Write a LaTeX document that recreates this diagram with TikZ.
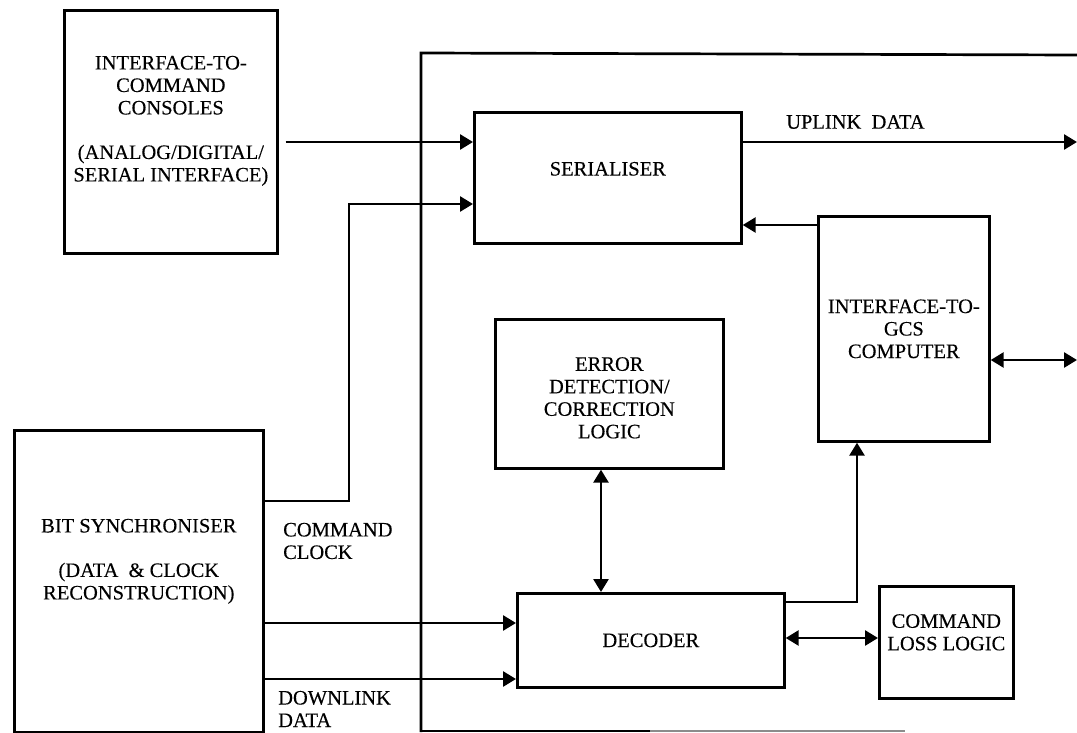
\documentclass[tikz,border=0pt]{standalone}
\usepackage{fontspec}
\setmainfont{Liberation Serif}[FakeBold=0.25]
\usetikzlibrary{arrows.meta,calc}
\begin{document}
\begin{tikzpicture}[x=1pt,y=-1pt,
  blk/.style={draw,line width=2.7pt,rectangle,inner sep=0pt,anchor=north west,
    font=\fontsize{20.5}{22.5}\selectfont,align=center},
  txt/.style={font=\fontsize{20.5}{22.5}\selectfont,align=center,inner sep=0pt},
  ltxt/.style={font=\fontsize{20.5}{22.5}\selectfont,align=left,inner sep=0pt,anchor=west},
  wire/.style={line width=2.7pt},
  arr/.style={wire,-{Triangle[length=13pt,width=15pt]}},
  darr/.style={wire,{Triangle[length=13pt,width=15pt]}-{Triangle[length=13pt,width=15pt]}}
]
\useasboundingbox (0,0) rectangle (1077,733);
% outer frame
\draw[wire] (421,732) -- (421,53) -- (1077,55);
\draw[wire] (421,731) -- (650,731);
\draw[line width=1.8pt,black!45] (650,731) -- (905,731);
% boxes
\node[blk,minimum width=213pt,minimum height=243pt,
  label={[txt,yshift=11pt]center:INTERFACE-TO-\\COMMAND\\CONSOLES\\[22pt](ANALOG/DIGITAL/\\SERIAL INTERFACE)}]
  (cons) at (63,9) {};
\node[blk,minimum width=267pt,minimum height=131pt,
  label={[txt,yshift=9pt]center:SERIALISER}] (ser) at (473,111) {};
\node[blk,minimum width=171pt,minimum height=225pt] (gcs) at (817,215)
  {INTERFACE-TO-\\GCS\\COMPUTER};
\node[blk,minimum width=228pt,minimum height=149pt,
  label={[txt,yshift=-4pt]center:ERROR\\DETECTION/\\CORRECTION\\LOGIC}] (err) at (494,318) {};
\node[blk,minimum width=267pt,minimum height=94pt] (dec) at (516,592) {DECODER};
\node[blk,minimum width=134pt,minimum height=112pt,
  label={[txt,yshift=10pt]center:COMMAND\\LOSS LOGIC}] (loss) at (878,585) {};
\node[blk,minimum width=249pt,minimum height=302pt,
  label={[txt,yshift=20pt]center:BIT SYNCHRONISER\\[22pt](DATA~~\&~CLOCK\\RECONSTRUCTION)}]
  (bit) at (13,429) {};
% free ends
\coordinate (upout) at (1077,142);
\coordinate (gcsout) at (1077,360);
% connectors
\draw[arr] ([xshift=7pt]cons.east |- 0,142) -- (ser.west |- 0,142);
\draw[arr] (bit.east |- 0,501) -- (349,501) -- (349,204) -- (ser.west |- 0,204);
\draw[arr] (ser.east |- upout) -- (upout);
\draw[arr] (gcs.west |- 0,225) -- (ser.east |- 0,225);
\draw[darr] (gcs.east |- gcsout) -- (gcsout);
\draw[darr] (err.south -| 601,0) -- (dec.north -| 601,0);
\draw[arr] (dec.east |- 0,602) -- (857,602) -- (gcs.south -| 857,0);
\draw[darr] (dec.east |- 0,638) -- (loss.west |- 0,638);
\draw[arr] (bit.east |- 0,623) -- (dec.west |- 0,623);
\draw[arr] (bit.east |- 0,679) -- (dec.west |- 0,679);
% labels
\node[ltxt,anchor=west] (upl) at (786,122) {UPLINK~~DATA};
\node[ltxt] (cclk) at (283,541) {COMMAND\\CLOCK};
\node[ltxt] (dlnk) at (278,709) {DOWNLINK\\DATA};
\end{tikzpicture}
\end{document}
